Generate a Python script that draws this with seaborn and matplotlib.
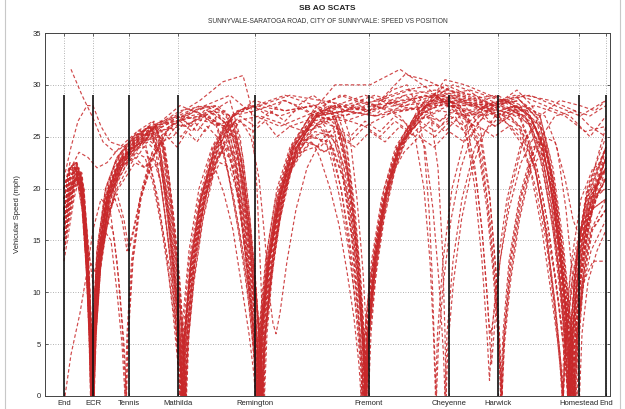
import matplotlib
matplotlib.use("Agg")
import matplotlib.pyplot as plt
from matplotlib.patches import Rectangle
import pandas as pd
import seaborn as sns

# Intersections along the corridor (position in feet) and their labels
stations = ["End", "ECR", "Tennis", "Mathilda", "Remington", "Fremont",
            "Cheyenne", "Harwick", "Homestead", "End"]
station_pos = [190, 480, 840, 1330, 2100, 3240, 4040, 4530, 5340, 5610]
stop_bar_height = 29
speed_ticks = [0, 5, 10, 15, 20, 25, 30, 35]

# Floating-car runs: (position ft, speed mph)
run01 = [(190,18),(250,21),(320,22),(380,18),(420,11),(450,5),(465,0),(485,7),(525,14),(610,20),(730,23),(900,25),(1050,26),(1100,24),(1180,19),(1260,13),(1310,7),(1345,0),(1375,7),(1440,14),(1540,20),(1670,24),(1850,27),(2050,28),(2350,27),(2650,28),(2800,26),(2880,23.5),(2960,20),(3040,15.5),(3110,10),(3160,5),(3190,0),(3220,7),(3290,14),(3390,20),(3520,24),(3700,27),(3950,28),(4250,28),(4550,27),(4800,28),(4950,25),(5060,20),(5140,14),(5200,7),(5235,0),(5265,7),(5330,14),(5430,20),(5610,24)]
run02 = [(190,16),(240,19),(300,21.5),(360,20),(410,14),(445,7),(470,0),(490,6),(530,13),(620,19),(740,22),(900,24),(1100,26),(1330,27),(1550,28),(1700,27),(1790,23.5),(1870,19.5),(1950,15),(2030,9.5),(2080,5),(2120,0),(2150,7),(2220,14),(2320,20),(2450,24),(2650,27),(2900,28),(3200,27.5),(3500,28),(3800,29),(4100,28),(4400,27),(4700,28),(4950,27),(5050,23),(5140,17),(5220,10),(5270,4),(5290,0),(5310,5),(5370,10),(5460,14),(5610,17)]
run03 = [(190,20),(250,22),(320,22.5),(380,20),(430,13),(460,6),(480,0),(500,7),(545,14),(630,20),(760,23),(920,25),(1080,25.5),(1150,23),(1230,17),(1300,10),(1350,4),(1370,0),(1395,6),(1460,13),(1560,19),(1690,23),(1800,24),(1880,22),(1960,17),(2040,11),(2110,4),(2140,0),(2165,6),(2240,13),(2340,19),(2480,23),(2650,25),(2850,25.5),(2950,23),(3050,18),(3130,11),(3180,5),(3200,0),(3225,6),(3290,13),(3390,19),(3530,24),(3750,27),(4000,28.5),(4300,28),(4600,28.5),(4850,27),(4980,24),(5080,19),(5160,12),(5220,5),(5250,0),(5275,6),(5340,13),(5450,19),(5610,22)]
run04 = [(190,15),(240,18),(300,21),(350,21.5),(400,17),(440,10),(465,4),(478,0),(495,6),(540,14),(630,20),(760,23.5),(950,25),(1150,26.5),(1400,26),(1650,27.5),(1850,26),(1950,22),(2030,16),(2090,9),(2140,3),(2155,0),(2180,6),(2250,13),(2350,19),(2490,24),(2700,27),(2900,26.5),(3020,22),(3100,16),(3160,9),(3200,3),(3215,0),(3240,6),(3310,13),(3420,20),(3570,25),(3800,28),(4100,29),(4400,28),(4700,27),(4900,26),(5050,21),(5150,14),(5220,7),(5260,0),(5290,6),(5360,13),(5460,19),(5610,23)]
run05 = [(190,19),(250,22),(300,22.5),(360,21),(410,15),(440,8),(460,2),(468,0),(490,6),(530,13),(620,19),(740,22.5),(900,24.5),(1000,24.5),(1060,22),(1130,19),(1210,14),(1280,8),(1330,3),(1355,0),(1380,6),(1440,13),(1540,19),(1680,24),(1870,27),(2100,27.5),(2400,28.5),(2700,27),(3000,26.5),(3300,27.5),(3600,29),(3900,29.5),(4200,28.5),(4500,29),(4720,27.5),(4820,25),(4910,21.5),(5000,17),(5090,12),(5160,7),(5205,3),(5230,0),(5260,7),(5320,14),(5420,20),(5610,25)]
run06 = [(190,17),(250,20),(310,21),(370,19),(420,12),(450,5),(462,0),(480,6),(520,13),(610,19),(730,22),(880,24.5),(1050,25.5),(1300,26.5),(1550,27),(1800,26),(1900,22),(1990,16),(2060,9),(2110,3),(2130,0),(2150,6),(2220,13),(2320,19),(2450,23),(2650,26),(2900,27),(3200,26),(3500,27.5),(3800,28),(4050,28.5),(4200,26),(4300,20),(4370,13),(4420,6),(4445,1.5),(4470,6),(4530,13),(4620,19),(4750,24),(4900,26),(5030,23),(5130,17),(5210,10),(5260,4),(5280,0),(5300,5),(5360,12),(5460,18),(5610,21)]
run07 = [(190,14),(240,17),(300,20),(350,21),(400,16),(440,9),(465,3),(475,0),(495,6),(540,13),(610,17),(680,16),(740,11),(790,5),(815,0),(835,6),(880,13),(960,19),(1080,23),(1250,26),(1450,27.5),(1700,28),(1900,26),(1990,21),(2060,14),(2110,7),(2145,0),(2170,6),(2240,13),(2350,19),(2490,24),(2700,27),(2900,28),(3000,25),(3080,19),(3150,12),(3195,5),(3210,0),(3235,6),(3300,13),(3400,19),(3540,24),(3750,27.5),(4000,29),(4300,28),(4600,27),(4900,28),(5200,27),(5400,25.5),(5610,26)]
run08 = [(190,18),(245,21),(300,22),(360,20.5),(410,14),(440,7),(458,0),(478,6),(520,14),(605,20),(720,23),(880,25),(1050,26),(1150,24),(1240,18),(1310,11),(1355,5),(1380,0),(1400,6),(1460,13),(1550,19),(1680,23),(1800,24.5),(1900,23),(1980,18),(2050,11),(2100,5),(2125,0),(2150,6),(2220,13),(2320,19),(2460,24),(2650,27),(2900,28),(3200,29),(3500,28),(3800,27.5),(4100,28.5),(4400,28),(4700,29),(4900,27),(5050,22),(5140,15),(5200,8),(5240,2),(5255,0),(5280,5),(5340,12),(5440,18),(5610,21)]
run09 = [(190,16),(240,19.5),(300,21.5),(360,21),(410,15),(445,8),(470,2),(478,0),(500,6),(545,14),(640,20),(760,23),(950,24.5),(1150,25),(1400,27),(1650,28),(1850,27),(1960,23),(2050,16),(2120,9),(2165,3),(2180,0),(2205,6),(2270,13),(2370,19),(2500,23),(2700,26),(2900,27),(3020,24),(3100,18),(3160,11),(3205,4),(3220,0),(3245,6),(3310,13),(3410,19),(3550,24),(3780,27),(4050,28),(4350,27),(4650,28.5),(5000,27),(5120,24),(5210,18),(5280,11),(5325,4),(5345,0),(5370,6),(5430,11),(5520,14),(5610,16)]
run10 = [(190,20),(250,22),(310,22.5),(370,20.5),(420,14),(450,7),(470,1),(476,0),(495,6),(540,14),(630,20),(760,23),(920,25.5),(1080,26),(1160,23),(1240,17),(1310,10),(1360,4),(1385,0),(1410,6),(1470,13),(1570,19),(1700,24),(1880,27),(2100,28),(2400,27.5),(2700,28),(3000,29),(3300,28),(3550,27),(3700,25),(3790,20),(3850,13),(3885,6),(3905,0),(3925,6),(3980,13),(4070,20),(4200,25),(4400,28),(4650,28.5),(4850,27),(5000,24),(5100,19),(5180,12),(5230,5),(5255,0),(5280,6),(5340,13),(5440,19),(5610,24)]
run11 = [(190,17),(240,20),(300,22),(360,20),(410,13),(440,6),(455,0),(475,6),(515,13),(600,19),(720,22),(880,24),(1050,25),(1250,26),(1500,27.5),(1700,26.5),(1800,23),(1890,19),(1980,14),(2060,8.5),(2115,3.5),(2140,0),(2165,6),(2240,13),(2340,19),(2480,23.5),(2700,26),(2950,27),(3250,27.5),(3600,31),(3800,30.5),(4150,29),(4450,28),(4750,28.5),(4950,27),(5080,22),(5180,15),(5250,8),(5290,2),(5305,0),(5330,6),(5390,13),(5480,19),(5610,23)]
run12 = [(190,13),(240,16),(290,19),(340,21),(390,19),(435,12),(465,5),(485,0),(505,6),(550,13),(640,19),(770,22),(930,24),(1080,25),(1160,23),(1250,17),(1320,10),(1370,4),(1395,0),(1420,6),(1480,13),(1580,19),(1720,24),(1900,26.5),(2150,27),(2450,26),(2750,27),(2950,25.5),(3050,21),(3120,15),(3170,8),(3200,2),(3210,0),(3235,6),(3300,13),(3400,19),(3550,24),(3750,27),(3950,28.5),(4200,28),(4350,26),(4440,20),(4500,13),(4540,6),(4565,0),(4590,6),(4650,13),(4750,19),(4900,24),(5100,27),(5300,27.5),(5450,26),(5610,25)]
run13 = [(190,19),(250,21.5),(310,22),(370,19),(420,12),(450,5),(465,0),(485,6),(525,13),(610,19),(730,22.5),(900,24),(1100,25.5),(1350,27),(1600,26.5),(1800,26),(1920,22),(2010,16),(2080,9),(2130,3),(2145,0),(2170,6),(2240,13),(2340,19),(2480,24),(2680,26.5),(2780,25.5),(2870,22.5),(2950,19),(3030,14.5),(3100,9.5),(3160,4),(3190,0),(3215,6),(3280,13),(3380,19),(3520,24),(3720,26.5),(3950,27.5),(4250,27),(4550,28),(4800,27),(4950,24),(5060,19),(5140,12),(5200,5),(5225,0),(5250,6),(5310,13),(5410,19),(5610,22)]
run14 = [(190,15),(240,18),(300,21),(360,21.5),(410,16),(445,9),(470,3),(482,0),(500,6),(545,13),(640,19),(770,22),(930,24),(1100,26),(1200,24),(1280,18),(1350,11),(1395,4),(1410,0),(1435,6),(1500,13),(1600,19),(1730,23),(1850,25),(1940,22),(2020,16),(2090,9),(2140,3),(2160,0),(2185,6),(2250,13),(2350,19),(2490,24),(2700,27.5),(2950,29),(3250,28),(3550,27.5),(3850,28),(4150,29),(4450,28),(4750,28.5),(4950,26.5),(5070,21),(5160,14),(5230,7),(5270,1),(5280,0),(5305,6),(5365,13),(5460,19),(5610,22)]
run15 = [(190,18),(250,21),(310,22),(370,19.5),(420,13),(450,6),(463,0),(482,6),(520,12),(590,16),(660,15),(720,10),(770,5),(800,0),(820,6),(865,13),(950,19),(1060,22),(1150,22.5),(1230,18),(1300,11),(1350,5),(1370,0),(1395,6),(1455,13),(1555,19),(1690,24),(1870,27),(2100,28),(2400,29),(2700,28),(3000,27),(3300,28.5),(3600,29.5),(3900,30),(4200,29),(4500,28),(4800,27.5),(4950,25),(5060,20),(5140,13),(5200,6),(5230,0),(5255,6),(5315,13),(5410,19),(5610,24)]
run16 = [(190,17),(250,20.5),(320,21.5),(380,20),(430,13),(460,6),(475,0),(495,6),(540,13),(630,19),(750,22.5),(910,24.5),(1100,26),(1350,28),(1600,27),(1850,28.5),(1950,25),(2030,19),(2100,12),(2150,5),(2170,0),(2195,6),(2260,13),(2360,19),(2500,23.5),(2700,25.5),(2900,25),(3020,21),(3100,15),(3160,8),(3195,2),(3205,0),(3230,6),(3295,13),(3395,19),(3540,24),(3760,27.5),(4000,30),(4250,29),(4500,28),(4800,29),(5050,28.5),(5300,27.5),(5450,27),(5610,28)]
run17 = [(190,16),(240,19),(300,21),(360,21.5),(410,16),(445,9),(470,2),(480,0),(500,6),(545,14),(640,20),(770,23),(930,25),(1090,26.5),(1180,24),(1260,18),(1330,11),(1380,4),(1400,0),(1425,6),(1490,13),(1590,19),(1720,23),(1830,24),(1920,21),(2000,15),(2070,8),(2120,2),(2135,0),(2160,6),(2230,13),(2330,19),(2470,24),(2680,27),(2950,28),(3250,27.5),(3550,28.5),(3850,29),(4150,28),(4350,25),(4450,19),(4510,12),(4550,5),(4570,0),(4595,6),(4660,13),(4760,19),(4900,24),(5000,23),(5100,18),(5180,11),(5230,5),(5255,0),(5280,6),(5340,13),(5440,19),(5610,22)]
run18 = [(190,20),(250,22),(310,21.5),(370,18),(415,12),(445,5),(458,0),(478,6),(518,14),(605,20),(720,23),(880,25),(1080,26),(1300,26.5),(1550,27),(1800,27.5),(1920,24),(2010,18),(2090,11),(2150,5),(2185,0),(2210,6),(2280,13),(2380,19),(2520,24),(2720,27),(3000,27.5),(3300,27),(3600,28),(3900,29),(4200,28.5),(4500,27.5),(4750,26),(4900,22),(5010,16),(5090,9),(5150,3),(5170,0),(5195,6),(5255,12),(5350,16),(5470,18),(5610,19)]
run19 = [(260,31.5),(370,29),(480,26.8),(580,24.5),(700,23.5),(850,24.5),(1050,26),(1300,27),(1550,28.5),(1780,30.3),(1980,30.9),(2060,28),(2120,20),(2160,11),(2185,4),(2195,0),(2220,6),(2285,13),(2385,19),(2525,24),(2720,27),(2950,28),(3050,25),(3120,19),(3180,12),(3220,5),(3235,0),(3260,6),(3320,13),(3420,19),(3560,24),(3780,27.5),(4000,30.5),(4200,30),(4450,29),(4700,28),(4950,26),(5080,21),(5180,14),(5260,7),(5310,1),(5320,0),(5345,6),(5400,13),(5490,19),(5610,24)]
run20 = [(190,21),(260,24),(330,26.5),(420,28),(480,28),(560,26),(650,24.5),(800,24),(1000,25.5),(1150,26),(1230,22),(1300,16),(1360,9),(1400,3),(1415,0),(1440,6),(1500,13),(1600,19),(1730,24),(1900,26.5),(1980,23),(2050,17),(2110,10),(2160,4),(2180,0),(2205,6),(2275,13),(2375,19),(2515,24),(2720,27),(3000,28),(3300,29),(3600,28),(3900,28.5),(4200,27.5),(4500,28),(4800,27),(4960,24),(5070,18),(5150,11),(5210,4),(5230,0),(5255,6),(5315,13),(5410,19),(5610,26)]
run21 = [(200,0),(260,4),(350,8),(420,12),(480,16),(560,19),(650,18),(720,13),(770,7),(800,2),(810,0),(830,6),(875,13),(955,19),(1070,23),(1250,26),(1450,27),(1700,27.5),(1900,25),(1990,20),(2060,13),(2110,6),(2135,0),(2160,6),(2230,13),(2330,19),(2470,24),(2680,27.5),(2900,30),(3250,30),(3550,31.5),(3850,29.5),(4150,27),(4450,28),(4750,29),(5000,28),(5250,27),(5450,25),(5610,27)]
run22 = [(190,18),(250,21),(320,22),(380,20),(430,13),(460,6),(472,0),(492,6),(535,13),(625,19),(750,22),(910,24),(1000,24),(1080,21),(1160,17),(1250,12),(1320,6),(1360,2),(1375,0),(1400,6),(1460,13),(1560,19),(1700,24),(1880,27),(2100,28.5),(2400,27.5),(2700,28),(2920,26),(3030,21),(3110,14),(3165,7),(3195,1),(3200,0),(3225,6),(3290,13),(3390,19),(3530,24),(3700,26),(3800,24),(3880,18),(3940,11),(3985,4),(4000,0),(4020,6),(4080,13),(4170,19),(4300,24),(4500,27),(4750,28),(4950,26),(5080,21),(5170,14),(5240,7),(5280,1),(5290,0),(5315,6),(5375,13),(5470,19),(5610,23)]
run23 = [(190,15),(245,18.5),(300,21),(360,21),(410,15),(445,8),(468,2),(475,0),(495,6),(540,13),(630,19),(750,22.5),(920,24.5),(1120,26),(1370,27),(1620,28),(1820,26.5),(1920,22),(2010,16),(2080,9),(2130,3),(2150,0),(2175,6),(2245,13),(2345,19),(2485,24),(2700,27),(3000,27.5),(3300,28),(3600,28.5),(3900,29),(4150,28),(4320,25),(4420,19),(4490,12),(4540,5),(4555,0),(4580,6),(4640,13),(4740,19),(4880,24),(5000,24.5),(5100,20),(5190,13),(5260,6),(5300,0),(5325,6),(5385,11),(5480,13),(5610,13)]
run24 = [(190,17),(250,20),(310,21),(370,19),(420,12),(450,5),(462,0),(482,6),(525,13),(615,19),(740,22),(900,24),(1070,25),(1160,22),(1240,16),(1310,9),(1355,3),(1370,0),(1395,6),(1455,13),(1555,19),(1690,23.5),(1750,24.5),(1830,21.5),(1910,17.5),(1990,13),(2050,8),(2090,3.5),(2110,0),(2135,6),(2205,13),(2305,19),(2445,23.5),(2640,25),(2850,24.5),(2980,21),(3070,15),(3130,8),(3165,2),(3175,0),(3200,6),(3265,13),(3365,19),(3505,24),(3700,27),(3950,29),(4250,29.5),(4550,28.5),(4850,29),(5100,28),(5350,27),(5610,28.5)]
run25 = [(190,19),(250,22),(310,22),(370,19),(420,12),(450,6),(468,0),(488,6),(530,13),(620,19),(740,22.5),(900,24.5),(1100,26),(1350,27.5),(1600,28),(1850,29),(2100,27),(2350,26),(2600,27),(2850,28),(2980,25),(3070,19),(3140,12),(3190,5),(3215,0),(3240,6),(3305,13),(3405,19),(3545,24),(3750,27.5),(4000,29.5),(4300,29),(4600,28),(4850,26.5),(4990,22),(5090,16),(5170,9),(5230,3),(5250,0),(5275,6),(5335,13),(5430,19),(5610,20)]
run26 = [(190,19),(260,22),(340,23.5),(430,23),(520,22),(620,22.5),(750,24),(920,25.5),(1080,26.5),(1170,24),(1250,18),(1320,11),(1365,4),(1380,0),(1405,6),(1465,13),(1565,19),(1700,24),(1880,26.5),(1960,23),(2040,17),(2110,10),(2160,4),(2175,0),(2200,6),(2270,13),(2370,19),(2510,24),(2720,27),(3000,27.5),(3300,27),(3600,27.5),(3900,28),(4200,28.5),(4500,27),(4750,25.5),(4900,22),(5010,16),(5100,9),(5160,3),(5180,0),(5205,6),(5265,13),(5360,19),(5480,22),(5610,22.5)]
run27 = [(190,16),(245,19),(300,21),(360,20.5),(410,14),(445,7),(465,1),(470,0),(490,6),(535,13),(625,19),(745,22.5),(910,24.5),(1110,25.5),(1360,26),(1610,27),(1800,26),(1910,22),(2000,16),(2070,9),(2120,3),(2140,0),(2165,6),(2235,13),(2335,19),(2475,24),(2680,26.5),(2900,27),(3010,23),(3090,17),(3150,10),(3190,4),(3205,0),(3230,6),(3295,13),(3395,19),(3535,24),(3750,28),(4000,29),(4200,27),(4300,22),(4370,16),(4420,10),(4450,5),(4465,3),(4490,6),(4550,13),(4640,19),(4780,24.5),(4950,27),(5150,28.5),(5350,28),(5500,27.5),(5610,28.5)]
run28 = [(190,18),(250,21),(315,22.5),(375,20.5),(425,14),(455,7),(478,1),(485,0),(505,6),(550,13),(640,19),(765,22.5),(930,24.5),(1100,26),(1190,24),(1270,18),(1340,11),(1385,4),(1400,0),(1425,6),(1490,13),(1590,19),(1730,24),(1920,27.5),(2150,28),(2450,29),(2750,28.5),(3050,28),(3350,28.5),(3650,29.5),(3950,29),(4250,28),(4550,27.5),(4750,27),(4850,24.5),(4940,21),(5030,16.5),(5110,11),(5180,6),(5220,2.5),(5240,0),(5265,6),(5325,13),(5420,19),(5610,24)]
run29 = [(190,14),(240,17),(290,20),(340,21),(380,19.5),(420,14),(450,8),(475,2),(490,0),(510,6),(560,13),(650,18),(720,20),(800,21.5),(900,23),(1000,22),(1080,23.5),(1150,21),(1220,16),(1290,10),(1340,5),(1365,1),(1380,0),(1405,5),(1470,11),(1560,17),(1650,21),(1700,22),(1790,19.5),(1880,16),(1960,11),(2040,6),(2090,2),(2105,0),(2130,5),(2200,11),(2290,17),(2400,21),(2520,23),(2650,24.5),(2800,23.5),(2950,25),(3100,24),(3250,25.5),(3400,24.5),(3550,26),(3700,25),(3850,26.5),(4000,25.5),(4150,27),(4300,26),(4450,27.5),(4600,26.5),(4750,25),(4870,21),(4970,16),(5060,10),(5130,5),(5170,1),(5185,0),(5210,5),(5270,11),(5360,16),(5480,19),(5610,20)]
run30 = [(190,17),(240,19),(290,21.5),(340,22),(390,20),(430,14),(455,8),(475,2),(485,0),(505,6),(550,12),(630,17),(720,20.5),(820,22.5),(920,23),(1020,24.5),(1120,23.5),(1220,25),(1320,24),(1420,25.5),(1520,24.5),(1620,26),(1720,25),(1820,24),(1900,21),(1980,16),(2050,10),(2100,5),(2125,1),(2135,0),(2160,5),(2220,11),(2310,17),(2420,21),(2540,23),(2660,24.5),(2780,23.5),(2880,24),(2980,21),(3060,16),(3120,10),(3160,5),(3180,1),(3190,0),(3215,5),(3275,11),(3360,17),(3470,22),(3600,24.5),(3750,26),(3900,25),(4050,26.5),(4200,25.5),(4350,27),(4500,26),(4650,27),(4800,25.5),(4920,22),(5020,17),(5110,11),(5180,5),(5220,1),(5235,0),(5260,5),(5320,11),(5410,16),(5510,19),(5610,21)]
run31 = [(190,20),(250,22.5),(320,21),(390,17),(450,13),(500,12),(560,14),(640,18),(720,19.5),(790,17),(840,14),(890,16),(970,20),(1070,23.5),(1170,24.5),(1240,21),(1300,15),(1350,9),(1385,4),(1405,0),(1430,5),(1490,11),(1580,17),(1700,22),(1830,25),(1950,26.5),(2080,25.5),(2200,26.5),(2320,25),(2450,26),(2600,25.5),(2750,26),(2900,24.5),(3010,20),(3090,14),(3150,8),(3190,3),(3205,0),(3230,5),(3290,11),(3380,17),(3500,22),(3650,25.5),(3800,27),(3950,26.5),(4100,27.5),(4250,26.5),(4370,23),(4450,17),(4510,10),(4550,4),(4570,0),(4595,5),(4655,11),(4745,17),(4860,22),(4980,23.5),(5070,20),(5160,13),(5230,6),(5270,1),(5285,0),(5310,5),(5370,11),(5460,16),(5610,19)]
run32 = [(190,15),(250,18.5),(310,21),(370,20),(420,15),(455,8),(480,2),(492,0),(512,6),(560,13),(650,19),(760,22),(880,23),(1000,25),(1120,24),(1240,26),(1360,25),(1480,26.5),(1600,25.5),(1720,27),(1840,26),(1960,26.5),(2060,25),(2140,21),(2200,15),(2240,10),(2280,7),(2310,6),(2350,8),(2420,13),(2510,18),(2620,22),(2750,24.5),(2900,26),(3050,25),(3200,26.5),(3350,25.5),(3500,27),(3650,26),(3800,27.5),(3950,26.5),(4100,28),(4250,27),(4400,28),(4550,26.5),(4700,27.5),(4850,26),(4980,22),(5080,16),(5160,9),(5220,3),(5240,0),(5265,5),(5325,11),(5415,17),(5520,21),(5610,23)]
run33 = [(190,18),(245,20.5),(300,22),(355,21),(400,16),(435,10),(460,4),(470,0),(490,5),(535,12),(610,17),(700,20.5),(800,22),(900,23.5),(1000,23),(1080,20.5),(1160,16.5),(1240,11.5),(1300,7),(1345,3),(1362,0),(1385,5),(1445,11),(1535,17),(1650,21.5),(1760,23.5),(1850,23),(1940,19),(2010,13),(2070,7),(2110,2),(2122,0),(2145,5),(2210,11),(2300,17),(2420,22),(2550,24.5),(2700,25),(2850,24),(2960,20),(3050,14),(3110,8),(3155,3),(3170,0),(3195,5),(3255,11),(3345,17),(3460,22),(3600,25),(3750,26.5),(3900,25.5),(4050,27),(4200,26),(4350,27.5),(4500,26),(4650,27),(4800,25),(4920,21),(5020,15),(5100,9),(5160,3),(5180,0),(5205,5),(5265,11),(5355,16),(5470,20),(5610,21)]
run34 = [(190,20),(250,22),(310,22),(365,19),(410,13),(440,6),(455,1),(460,0),(480,6),(520,13),(600,19),(700,22.5),(820,24),(950,25.5),(1080,25),(1200,26.5),(1330,27),(1460,26),(1590,27.5),(1720,28),(1850,27),(1950,23),(2030,17),(2090,10),(2130,4),(2150,0),(2175,5),(2240,11),(2330,17),(2450,22),(2580,25),(2720,27),(2870,28),(3020,27.5),(3170,28.5),(3320,28),(3470,29.5),(3620,30),(3720,28),(3790,24),(3840,18),(3870,12),(3890,6),(3905,2),(3915,0),(3935,5),(3985,11),(4060,17),(4160,22),(4280,25.5),(4420,27.5),(4570,28.5),(4720,29.5),(4870,28),(5000,25),(5100,19),(5180,12),(5240,5),(5270,0),(5295,5),(5355,11),(5445,17),(5610,22)]
run35 = [(190,16),(250,19),(310,21),(370,20.5),(420,15),(455,8),(478,2),(488,0),(510,6),(560,13),(640,18.5),(740,21.5),(850,23.5),(960,24),(1060,25.5),(1150,23),(1230,17.5),(1300,11),(1350,5),(1375,1),(1388,0),(1410,5),(1470,11),(1560,17),(1680,22.5),(1810,25.5),(1950,27),(2100,26),(2250,27.5),(2400,26.5),(2550,28),(2700,27),(2850,28.5),(3000,27.5),(3150,28),(3300,27),(3450,28.5),(3600,29),(3750,28),(3900,29),(4050,28),(4200,27),(4330,24),(4420,18),(4480,12),(4520,7),(4545,3),(4560,0),(4585,5),(4645,11),(4735,17),(4850,22),(4980,25),(5100,24.5),(5200,21),(5280,17),(5360,15),(5450,17),(5530,19.5),(5610,21)]
run36 = [(190,19),(250,21.5),(310,22.5),(370,21),(420,15),(450,9),(470,3),(480,0),(500,6),(545,13),(620,17.5),(700,19),(770,17),(820,14),(870,15.5),(950,19),(1050,22.5),(1160,24.5),(1280,25),(1400,26.5),(1520,25.5),(1640,27),(1760,26),(1880,25),(1970,21),(2050,15),(2110,9),(2150,4),(2170,0),(2195,5),(2260,11),(2350,17),(2470,22),(2600,25),(2750,26.5),(2880,26),(2990,22),(3080,16),(3140,10),(3185,4),(3200,0),(3225,5),(3285,11),(3375,17),(3490,22),(3630,25.5),(3780,27.5),(3930,29),(4080,30),(4230,29.5),(4380,28.5),(4530,29),(4680,28),(4830,26.5),(4950,23),(5050,18),(5140,12),(5210,6),(5250,1),(5262,0),(5285,5),(5345,11),(5435,17),(5540,21),(5610,22)]
run37 = [(190,17),(250,20),(310,22),(370,21.5),(420,16),(450,10),(472,4),(486,0),(506,6),(552,13),(640,19),(750,22),(870,23.5),(990,25),(1100,26),(1180,24),(1250,19),(1310,13),(1360,7),(1390,2),(1402,0),(1425,5),(1485,11),(1575,17),(1690,22),(1810,25),(1900,25.5),(1980,22),(2050,16),(2110,10),(2150,4),(2165,0),(2190,5),(2255,11),(2345,17),(2460,22),(2600,25.5),(2760,27.5),(2920,27),(3080,28),(3240,27.5),(3400,28.5),(3560,28),(3720,29),(3850,27.5),(3930,22),(3975,14),(4000,6),(4012,0),(4030,5),(4085,11),(4165,17),(4270,22),(4400,25.5),(4550,27),(4700,28),(4850,27),(4980,24),(5080,19),(5160,13),(5225,6),(5260,1),(5272,0),(5295,5),(5355,11),(5445,17),(5550,21),(5610,23)]
run38 = [(190,17),(260,20),(330,21),(400,18),(450,13),(490,10),(540,12),(610,16),(700,20),(800,23),(910,24.5),(1030,26),(1130,25),(1210,20),(1280,13),(1330,7),(1360,2),(1370,0),(1393,5),(1453,11),(1543,17),(1658,22.5),(1790,26),(1930,27.5),(2080,28),(2230,27),(2380,28.5),(2530,28),(2680,29),(2830,28),(2960,25),(3050,20),(3120,14),(3170,8),(3200,3),(3215,0),(3240,5),(3300,11),(3390,17),(3505,22),(3650,26),(3800,28.5),(3950,29.5),(4100,29),(4250,28),(4400,28.5),(4550,27.5),(4700,28),(4850,27),(4980,24),(5090,18),(5180,11),(5250,5),(5290,1),(5302,0),(5325,5),(5385,11),(5475,16),(5610,18)]
run39 = [(190,14),(240,17.5),(290,20),(340,21.5),(390,20),(430,14),(458,8),(478,2),(488,0),(508,6),(555,13),(640,19),(750,22),(870,24),(990,24.5),(1110,26),(1230,25),(1350,26.5),(1470,25.5),(1590,27),(1710,26),(1830,26.5),(1930,23),(2010,17),(2080,11),(2130,5),(2155,1),(2165,0),(2190,5),(2255,11),(2345,17),(2460,22),(2600,24.5),(2750,24),(2900,25.5),(3050,24.5),(3200,26),(3350,25),(3500,26.5),(3650,25.5),(3800,27),(3950,26),(4100,27),(4220,25),(4310,21),(4370,16),(4410,11),(4440,7),(4460,6),(4490,8),(4550,13),(4640,18),(4760,22.5),(4890,25),(5000,24),(5100,19),(5180,12),(5240,6),(5275,1),(5290,0),(5315,5),(5375,11),(5465,16),(5610,18)]
run40 = [(190,18),(245,20),(300,21),(355,20.5),(405,15),(440,9),(462,3),(472,0),(492,5),(535,11),(610,16),(700,19.5),(800,21),(900,22.5),(1000,22),(1080,23),(1160,20.5),(1230,15),(1290,9),(1335,4),(1355,0),(1380,5),(1440,10),(1530,16),(1640,20.5),(1750,22.5),(1850,22),(1940,19),(2010,13),(2070,7),(2110,2),(2120,0),(2145,5),(2210,11),(2300,16.5),(2420,21),(2550,23.5),(2700,24),(2750,23),(2850,20),(2940,16.5),(3020,12),(3090,7.5),(3140,3),(3160,0),(3185,5),(3245,11),(3335,16),(3450,21),(3590,23.5),(3740,25),(3890,24),(4040,25.5),(4190,24.5),(4340,26),(4490,25),(4640,26),(4790,24),(4910,20),(5010,15),(5090,9),(5150,4),(5180,0),(5205,5),(5265,10),(5355,15),(5470,18),(5610,19)]

runs = [run01, run02, run03, run04, run05, run06, run07, run08, run09, run10,
        run11, run12, run13, run14, run15, run16, run17, run18, run19, run20,
        run21, run22, run23, run24, run25, run26, run27, run28, run29, run30,
        run31, run32, run33, run34, run35, run36, run37, run38, run39, run40]

rows = [(i, x, v) for i, run in enumerate(runs, 1) for x, v in run]
df = pd.DataFrame(rows, columns=["run", "position", "speed"])

sns.set_theme(style="white")
plt.rcParams["font.family"] = ["Liberation Sans", "DejaVu Sans"]

fig = plt.figure(figsize=(6.25, 4.09), dpi=100)
fig.patch.set_facecolor("white")
ax = fig.add_axes([45 / 625, 1 - 396 / 409, 565 / 625, 363 / 409])

sns.lineplot(data=df, x="position", y="speed", units="run", estimator=None,
             color="#c8282a", lw=0.85, linestyle=(0, (3.0, 2.0)), alpha=0.85,
             legend=False, ax=ax, zorder=2)

# stop bars at each intersection
ax.vlines(station_pos, 0, stop_bar_height, colors="#111111", lw=1.2, zorder=3)

ax.set_xlim(0, 5650)
ax.set_ylim(0, 35)
ax.set_xticks(station_pos)
ax.set_xticklabels(stations)
ax.set_yticks(speed_ticks)
ax.grid(True, linestyle=(0, (1, 2)), color="#9a9a9a", lw=0.6)
ax.set_axisbelow(True)
ax.set_xlabel("")
ax.set_ylabel("Vehicular Speed (mph)", fontsize=5.5, labelpad=8)
ax.tick_params(direction="in", length=2.5, width=0.5, labelsize=5.5, pad=3,
               top=True, right=True, bottom=True, left=True)
for sp in ax.spines.values():
    sp.set_color("#444444")
    sp.set_linewidth(0.7)

fig.text(0.524, 1 - 9 / 409, "SB AO SCATS", ha="center", va="center",
         fontsize=6, fontweight="bold", color="#222222")
fig.text(0.524, 1 - 21 / 409,
         "SUNNYVALE-SARATOGA ROAD, CITY OF SUNNYVALE: SPEED VS POSITION",
         ha="center", va="center", fontsize=4.8, color="#333333")

# outer frame of the figure window
fig.patches.append(Rectangle((5 / 625, -0.01), 615 / 625, 1.02,
                             transform=fig.transFigure, fill=False,
                             edgecolor="#c8c8c8", lw=0.8))

fig.savefig("out.png", dpi=100)
